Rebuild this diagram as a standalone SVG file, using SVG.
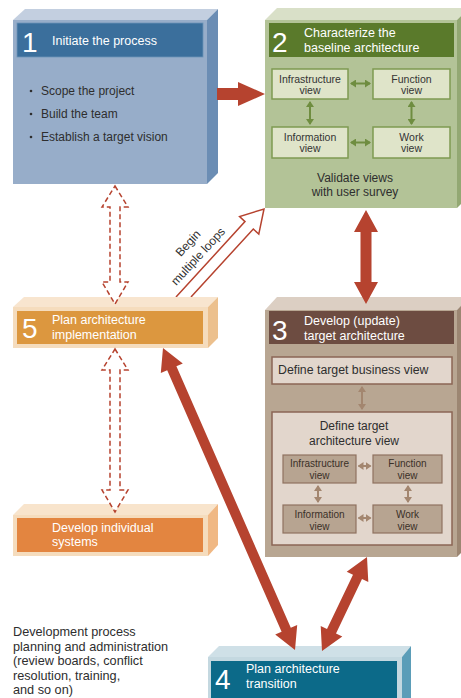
<svg xmlns="http://www.w3.org/2000/svg" width="461" height="698" viewBox="0 0 461 698">
  <defs>
    <style>
      text { font-family: "Liberation Sans", Arial, sans-serif; }
      .num { font-size: 28px; fill: #ffffff; }
      .ttl { font-size: 12.5px; fill: #ffffff; }
      .body { font-size: 12px; fill: #2e2e2e; }
      .foot { font-size: 12.7px; fill: #2e2e2e; }
      .lbl2 { font-size: 10.5px; fill: #333333; text-anchor: middle; }
      .lbl3 { font-size: 10px; fill: #3a3028; text-anchor: middle; }
      .mid { text-anchor: middle; }
      .red { fill: #b6432f; }
      .hollow { fill: #ffffff; stroke: #b6432f; stroke-width: 1.5; }
      .dash { stroke-dasharray: 5 3; }
      .g-in { fill: #dfe4c9; stroke: #7f9a52; stroke-width: 1.5; }
      .g-arr { stroke: #6f8d40; stroke-width: 2; fill: none; marker-start: url(#hg); marker-end: url(#hg); }
      .b-in { fill: #e2d6cc; stroke: #8b6655; stroke-width: 1.5; }
      .b-sm { fill: #b7a491; stroke: #8f7260; stroke-width: 1.2; }
      .b-arr { stroke: #a3866f; stroke-width: 2; fill: none; marker-start: url(#hb); marker-end: url(#hb); }
    </style>
    <marker id="hg" viewBox="0 0 6 8" refX="5" refY="4" markerWidth="3" markerHeight="4" orient="auto-start-reverse" markerUnits="strokeWidth">
      <path d="M0,0 L6,4 L0,8 Z" fill="#6f8d40"/>
    </marker>
    <marker id="hb" viewBox="0 0 6 8" refX="5" refY="4" markerWidth="3" markerHeight="4" orient="auto-start-reverse" markerUnits="strokeWidth">
      <path d="M0,0 L6,4 L0,8 Z" fill="#a3866f"/>
    </marker>
  </defs>

  <rect width="461" height="698" fill="#ffffff"/>

  <!-- hollow "begin multiple loops" arrow sits behind box 5 -->
  <g id="loops-arrow">
    <path class="hollow" d="M176,297 L245,221.6 L239.6,216.5 L264,209 L258.8,234.1 L253.3,229 L191,297"/>
    <text class="body" transform="translate(191,246) rotate(-47.5)" text-anchor="middle">Begin</text>
    <text class="body" transform="translate(201,259) rotate(-47.5)" text-anchor="middle">multiple loops</text>
  </g>

  <!-- Step 1 -->
  <g id="step1">
    <polygon points="13,20 25,9 218,9 207,20" fill="#c3cfe0"/>
    <polygon points="207,20 218,9 218,173 207,184" fill="#6b8db4"/>
    <rect x="13" y="20" width="194" height="164" fill="#97adc9"/>
    <rect x="17" y="23" width="186" height="34" fill="#3b6f9c" stroke="#6d93b8" stroke-width="0.8"/>
    <text class="num" x="22" y="52">1</text>
    <text class="ttl" x="52" y="45">Initiate the process</text>
    <circle cx="31" cy="91" r="1.3" fill="#2e2e2e"/>
    <circle cx="31" cy="114" r="1.3" fill="#2e2e2e"/>
    <circle cx="31" cy="137" r="1.3" fill="#2e2e2e"/>
    <text class="body" x="41" y="95">Scope the project</text>
    <text class="body" x="41" y="118">Build the team</text>
    <text class="body" x="41" y="141">Establish a target vision</text>
  </g>

  <!-- Step 2 -->
  <g id="step2">
    <polygon points="265,20 277,8 469,8 457,20" fill="#d9e0c8"/>
    <polygon points="457,20 469,8 469,196 457,208" fill="#93a873"/>
    <rect x="265" y="20" width="192" height="188" fill="#b3c397"/>
    <rect x="269" y="23" width="185" height="34" fill="#5a7a2b"/>
    <text class="num" x="272" y="52">2</text>
    <text class="ttl" x="304" y="37">Characterize the</text>
    <text class="ttl" x="304" y="52">baseline architecture</text>
    <rect class="g-in" x="272" y="69" width="76" height="30"/>
    <rect class="g-in" x="373" y="69" width="77" height="30"/>
    <rect class="g-in" x="272" y="127" width="76" height="31"/>
    <rect class="g-in" x="373" y="127" width="77" height="31"/>
    <text class="lbl2" x="310" y="82.5">Infrastructure</text>
    <text class="lbl2" x="310" y="94">view</text>
    <text class="lbl2" x="411.5" y="82.5">Function</text>
    <text class="lbl2" x="411.5" y="94">view</text>
    <text class="lbl2" x="310" y="140.5">Information</text>
    <text class="lbl2" x="310" y="152">view</text>
    <text class="lbl2" x="411.5" y="140.5">Work</text>
    <text class="lbl2" x="411.5" y="152">view</text>
    <line class="g-arr" x1="351" y1="83.5" x2="370" y2="83.5"/>
    <line class="g-arr" x1="351" y1="142.5" x2="370" y2="142.5"/>
    <line class="g-arr" x1="310" y1="102" x2="310" y2="124"/>
    <line class="g-arr" x1="411.5" y1="102" x2="411.5" y2="124"/>
    <text class="body mid" x="355" y="182">Validate views</text>
    <text class="body mid" x="355" y="196">with user survey</text>
  </g>

  <!-- Step 3 -->
  <g id="step3">
    <polygon points="265,310 277,297 469,297 457,310" fill="#dccfc3"/>
    <polygon points="457,310 469,297 469,545 457,557" fill="#9c8672"/>
    <rect x="265" y="310" width="192" height="247" fill="#b8a692"/>
    <rect x="269" y="311" width="185" height="33" fill="#6d4c41"/>
    <text class="num" x="272" y="340">3</text>
    <text class="ttl" x="304" y="325">Develop (update)</text>
    <text class="ttl" x="304" y="340">target architecture</text>
    <rect class="b-in" x="272" y="357" width="180" height="27"/>
    <text class="body" x="278" y="374" style="font-size:12.3px">Define target business view</text>
    <rect class="b-in" x="272" y="412" width="180" height="133"/>
    <text class="body mid" x="354" y="430">Define target</text>
    <text class="body mid" x="354" y="445">architecture view</text>
    <rect class="b-sm" x="283" y="455" width="73" height="28"/>
    <rect class="b-sm" x="373" y="455" width="69" height="28"/>
    <rect class="b-sm" x="283" y="505" width="73" height="28"/>
    <rect class="b-sm" x="373" y="505" width="69" height="28"/>
    <text class="lbl3" x="319.5" y="467">Infrastructure</text>
    <text class="lbl3" x="319.5" y="479">view</text>
    <text class="lbl3" x="407.5" y="467">Function</text>
    <text class="lbl3" x="407.5" y="479">view</text>
    <text class="lbl3" x="319.5" y="518">Information</text>
    <text class="lbl3" x="319.5" y="530">view</text>
    <text class="lbl3" x="407.5" y="518">Work</text>
    <text class="lbl3" x="407.5" y="530">view</text>
    <line class="b-arr" x1="362" y1="387" x2="362" y2="409"/>
    <line class="b-arr" x1="358.5" y1="466" x2="370.5" y2="466"/>
    <line class="b-arr" x1="358.5" y1="518" x2="370.5" y2="518"/>
    <line class="b-arr" x1="318" y1="486" x2="318" y2="502"/>
    <line class="b-arr" x1="408" y1="486" x2="408" y2="502"/>
  </g>

  <!-- Step 5 -->
  <g id="step5">
    <polygon points="13,307 24,297 218,297 208,307" fill="#f8e5cf"/>
    <polygon points="208,307 218,297 218,338 208,348" fill="#ecc08d"/>
    <rect x="13" y="307" width="195" height="41" fill="#f5dcbd"/>
    <rect x="17" y="311" width="186" height="33" fill="#dc973f"/>
    <text class="num" x="22" y="338">5</text>
    <text class="ttl" x="52" y="324">Plan architecture</text>
    <text class="ttl" x="52" y="339">implementation</text>
  </g>

  <!-- Individual systems -->
  <g id="systems">
    <polygon points="13,515 24,504 218,504 208,515" fill="#f8e4cc"/>
    <polygon points="208,515 218,504 218,545 208,556" fill="#f0b884"/>
    <rect x="13" y="515" width="195" height="41" fill="#f5dcbd"/>
    <rect x="17" y="518" width="186" height="34" fill="#e38540"/>
    <text class="ttl" x="52" y="532">Develop individual</text>
    <text class="ttl" x="52" y="546">systems</text>
  </g>

  <!-- Step 4 -->
  <g id="step4">
    <polygon points="208,657 219,646 411,646 402,657" fill="#cfe0e7"/>
    <polygon points="402,657 411,646 411,698 402,698" fill="#5b9db8"/>
    <rect x="208" y="657" width="194" height="41" fill="#c4d8e0"/>
    <rect x="211" y="661" width="186" height="37" fill="#0c6a89"/>
    <text class="num" x="215" y="689">4</text>
    <text class="ttl" x="246" y="673">Plan architecture</text>
    <text class="ttl" x="246" y="688">transition</text>
  </g>

  <!-- Administration note -->
  <g id="admin-note">
    <text class="foot" x="13" y="636">Development process</text>
    <text class="foot" x="13" y="650.5">planning and administration</text>
    <text class="foot" x="13" y="665">(review boards, conflict</text>
    <text class="foot" x="13" y="679.5">resolution, training,</text>
    <text class="foot" x="13" y="694">and so on)</text>
  </g>

  <!-- Connectors -->
  <g id="connectors">
    <!-- 1 to 2 -->
    <polygon class="red" points="217,88 238,88 238,82 265,94 238,106 238,100 217,100"/>
    <!-- 2 and 3 -->
    <polygon class="red" points="366,210 378,232 371.5,232 371.5,282 378,282 366,304 354,282 360.5,282 360.5,232 354,232"/>
    <!-- 5 and 4 -->
    <polygon class="red" points="163,348 182.8,363.4 176.4,366.2 290.8,627.8 297.2,625 295,650 275.2,634.6 281.6,631.8 167.2,370.2 160.8,373"/>
    <!-- 3 and 4 -->
    <polygon class="red" points="367,557 368.3,582.1 362,579.1 336,633.4 342.3,636.4 322,651 320.7,626 327,629 353,574.7 346.7,571.7"/>
    <!-- 1 and 5 -->
    <path class="hollow dash" d="M115,186 L128,207 L120,207 L120,282 L128,282 L115,304 L102,282 L110,282 L110,207 L102,207 Z"/>
    <!-- 5 and individual systems -->
    <path class="hollow dash" d="M115,349 L128,370 L120,370 L120,490 L128,490 L115,512 L102,490 L110,490 L110,370 L102,370 Z"/>
  </g>
</svg>
